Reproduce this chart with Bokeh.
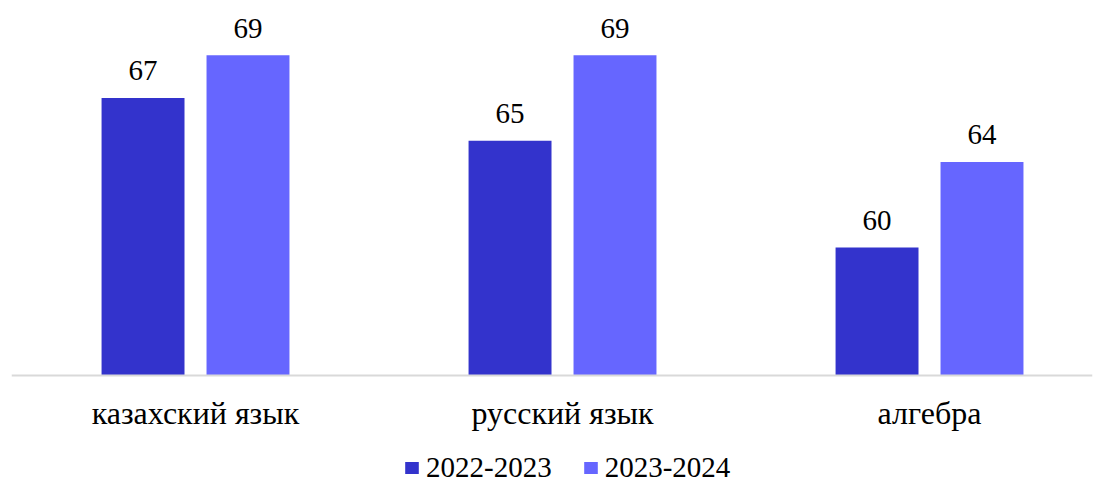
from bokeh.plotting import figure
from bokeh.models import ColumnDataSource, Range1d, FixedTicker, Legend, LegendItem
from bokeh.core.properties import value
from bokeh.embed import file_html
from bokeh.resources import INLINE

categories = ["казахский язык", "русский язык", "алгебра"]
series_names = ["2022-2023", "2023-2024"]
values_2022 = [67, 65, 60]
values_2023 = [69, 69, 64]
colors = ["#3333CC", "#6666FF"]
y_base = 54

FONT = "Liberation Serif"

p = figure(width=1100, height=484, output_backend="svg", toolbar_location=None,
           x_range=Range1d(-0.5014, 2.4441), y_range=Range1d(48.895, 71.564),
           y_axis_location=None, min_border_left=11, min_border_right=8,
           min_border_top=0, min_border_bottom=0)
p.outline_line_color = None
p.xgrid.visible = False
p.ygrid.visible = False
p.background_fill_color = "white"
p.border_fill_color = "white"

xs = list(range(len(categories)))
offset = 0.143
bw = 0.226
renderers = []
for i, (vals, col) in enumerate(zip([values_2022, values_2023], colors)):
    sx = [x + (-offset if i == 0 else offset) for x in xs]
    src = ColumnDataSource(dict(x=sx, top=vals, lbl=[str(v) for v in vals]))
    r = p.vbar(x="x", top="top", bottom=y_base, width=bw, source=src,
               fill_color=col, line_color=None)
    renderers.append(r)
    p.text(x="x", y="top", text="lbl", source=src, text_align="center",
           text_baseline="alphabetic", y_offset=-27, text_font=value(FONT),
           text_font_size="29px", text_color="#000000")

ax = p.xaxis[0]
ax.fixed_location = y_base
ax.ticker = FixedTicker(ticks=xs)
ax.major_label_overrides = {i: c for i, c in enumerate(categories)}
ax.major_label_text_font = FONT
ax.major_label_text_font_size = "32px"
ax.major_label_text_color = "#000000"
ax.major_tick_line_color = None
ax.minor_tick_line_color = None
ax.axis_line_color = "#D9D9D9"
ax.axis_line_width = 2
ax.major_label_standoff = 13

legend = Legend(items=[LegendItem(label=n, renderers=[r]) for n, r in zip(series_names, renderers)],
                orientation="horizontal", location=(392, 0))
legend.label_text_font = FONT
legend.label_text_font_size = "29px"
legend.label_text_color = "#000000"
legend.glyph_width = 17
legend.glyph_height = 15
legend.label_standoff = 6
legend.spacing = 30
legend.padding = 0
legend.margin = 0
legend.border_line_color = None
legend.background_fill_alpha = 0
p.add_layout(legend)

open("out.html", "w").write(file_html(p, INLINE))
